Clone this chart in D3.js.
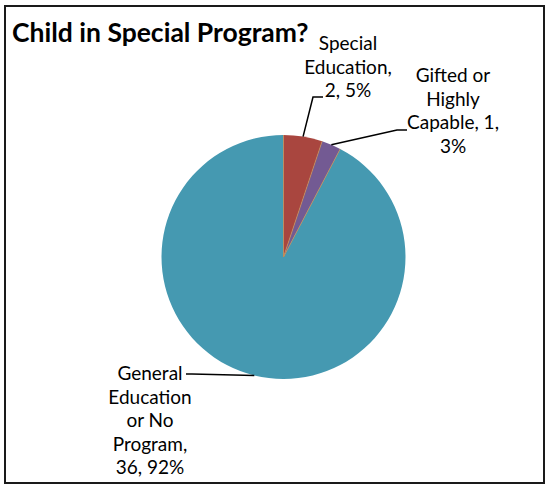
<!DOCTYPE html>
<html>
<head>
<meta charset="utf-8">
<script src="https://cdn.jsdelivr.net/npm/d3@7"></script>
<style>
	body { margin: 0; background: #fff; }
	svg { display: block; }
	text { font-family: Lato, "Open Sans", sans-serif; fill: #000; }
</style>
</head>
<body>
<div id="chart"></div>
<script>
/*

*	Chart data

*/
var categories = ['Special Education', 'Gifted or Highly Capable', 'General Education or No Program'];
var counts = [2, 1, 36];
var percents = ['5%', '3%', '92%'];
var labelLines = [
	['Special', 'Education,', '2, 5%'],
	['Gifted or', 'Highly', 'Capable, 1,', '3%'],
	['General', 'Education', 'or No', 'Program,', '36, 92%']
];
var colors = ['#a9463f', '#735a93', '#4599b1'];

/*

*	Layout (not data)

*/
var width = 548, height = 486;
var cx = 283.5, cy = 257, radius = 122;
// label anchor: centre x, first baseline y; leader: elbow and end point
var labelLayout = [
	{ x: 348, y: 50, elbow: [313, 97], end: [323, 97] },
	{ x: 453, y: 82, elbow: [397, 130], end: [407, 130] },
	{ x: 150, y: 380, elbow: [192, 374], end: [186, 374] }
];
var lineHeight = 23.5;

var svg = d3.select('#chart')
	.append('svg')
	.attr('width', width)
	.attr('height', height);

svg.append('rect')
	.attr('x', 5)
	.attr('y', 6)
	.attr('width', 539)
	.attr('height', 477)
	.attr('fill', '#fff')
	.attr('stroke', '#1a1a1a')
	.attr('stroke-width', 2);

svg.append('text')
	.attr('x', 12)
	.attr('y', 42)
	.attr('font-size', 26.5)
	.attr('font-weight', 'bold')
	.text('Child in Special Program?');

var pie = d3.pie()
	.sort(null)
	.value(function (d) { return d; });

var arc = d3.arc()
	.innerRadius(0)
	.outerRadius(radius);

var arcs = pie(counts);

var g = svg.append('g')
	.attr('transform', 'translate(' + cx + ',' + cy + ')');

g.selectAll('path')
	.data(arcs)
	.enter()
	.append('path')
	.attr('d', arc)
	.attr('fill', function (d, i) { return colors[i]; });

// thin radial separators between slices
g.selectAll('line.sep')
	.data(arcs)
	.enter()
	.append('line')
	.attr('class', 'sep')
	.attr('x1', 0)
	.attr('y1', 0)
	.attr('x2', function (d) { return radius * Math.sin(d.startAngle); })
	.attr('y2', function (d) { return -radius * Math.cos(d.startAngle); })
	.attr('stroke', '#c98a4e')
	.attr('stroke-width', 0.8);

// leader lines from slice edge mid-angle
var edge = d3.arc().innerRadius(radius).outerRadius(radius);
arcs.forEach(function (d, i) {
	var p = edge.centroid(d);
	var lay = labelLayout[i];
	svg.append('polyline')
		.attr('points', [
			[cx + p[0], cy + p[1]],
			lay.elbow,
			lay.end
		].map(function (q) { return q.join(','); }).join(' '))
		.attr('fill', 'none')
		.attr('stroke', '#000')
		.attr('stroke-width', 1.5);
});

labelLines.forEach(function (lines, i) {
	var lay = labelLayout[i];
	var t = svg.append('text')
		.attr('text-anchor', 'middle')
		.attr('font-size', 19);
	lines.forEach(function (s, j) {
		t.append('tspan')
			.attr('x', lay.x)
			.attr('y', lay.y + j * lineHeight)
			.text(s);
	});
});
</script>
</body>
</html>
